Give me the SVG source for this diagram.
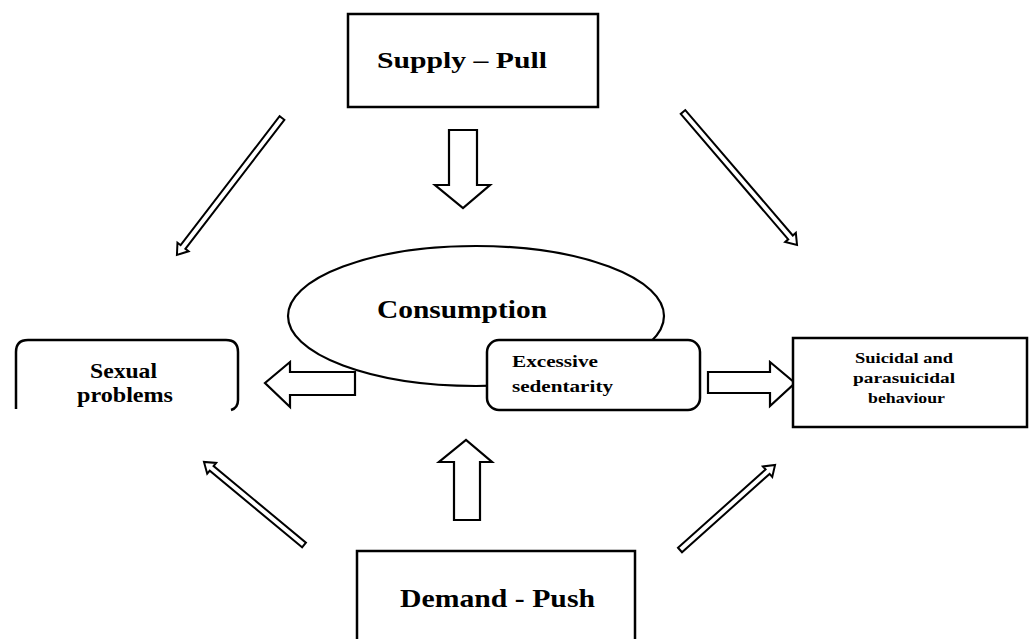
<svg xmlns="http://www.w3.org/2000/svg" width="1031" height="639" viewBox="0 0 1031 639">
<style>
.box{fill:#fff;stroke:#000;stroke-width:2.5}
.ell{fill:#fff;stroke:#000;stroke-width:2.2}
.blk{fill:#fff;stroke:#000;stroke-width:2.2;stroke-linejoin:miter}
.thin{fill:#fff;stroke:#000;stroke-width:2;stroke-linejoin:miter}
text{font-family:"Liberation Serif","Times New Roman",serif;font-weight:bold;fill:#000}
</style>
<defs>
<path id="thinArrow" d="M0,-3 L-10,-3 L-10,-7 L0,0 L-10,7 L-10,3 Z"/>
</defs>
<rect width="1031" height="639" fill="#fff"/>

<g id="connectors">
  <!-- block arrows -->
  <polygon class="blk" points="449,130 477,130 477,185 490,185 463,208 435,185 449,185"/>
  <polygon class="blk" points="454,520 480,520 480,462 492,462 466,440 439,462 454,462"/>
  <polygon class="blk" points="355,372 290,372 290,362 265,383 290,407 290,395 355,395"/>
  <polygon class="blk" points="708,372 770,372 770,362 795,383 770,406 770,393 708,393"/>
  <!-- thin diagonal arrows -->
  <g transform="translate(282,118) rotate(127.5)">
    <polygon class="thin" points="0,-3 162.6,-3 162.6,-7 172.6,0 162.6,7 162.6,3 0,3"/>
  </g>
  <g transform="translate(683,112) rotate(49.4)">
    <polygon class="thin" points="0,-3 165.2,-3 165.2,-7 175.2,0 165.2,7 165.2,3 0,3"/>
  </g>
  <g transform="translate(304,545) rotate(-140.3)">
    <polygon class="thin" points="0,-3 120,-3 120,-7 130,0 120,7 120,3 0,3"/>
  </g>
  <g transform="translate(680,550) rotate(-41.8)">
    <polygon class="thin" points="0,-3 117.5,-3 117.5,-7 127.5,0 117.5,7 117.5,3 0,3"/>
  </g>
</g>

<g id="supply">
  <rect class="box" x="348" y="14" width="250" height="93"/>
  <text x="377" y="68" font-size="24" textLength="170" lengthAdjust="spacingAndGlyphs">Supply – Pull</text>
</g>

<g id="consumption">
  <ellipse class="ell" cx="476" cy="316" rx="188" ry="70"/>
  <text x="377" y="318" font-size="25" textLength="170" lengthAdjust="spacingAndGlyphs">Consumption</text>
</g>

<g id="excessive">
  <rect class="box" x="487" y="340" width="213" height="70" rx="12" ry="12"/>
  <text x="512" y="367" font-size="16" textLength="86" lengthAdjust="spacingAndGlyphs">Excessive</text>
  <text x="512" y="392" font-size="16" textLength="101" lengthAdjust="spacingAndGlyphs">sedentarity</text>
</g>

<g id="sexual">
  <path class="box" fill="none" style="fill:none" d="M16,409 L16,352 Q16,340 28,340 L226,340 Q238,340 238,352 L238,400 Q238,408 231,410"/>
  <text x="90" y="378" font-size="21" textLength="67" lengthAdjust="spacingAndGlyphs">Sexual</text>
  <text x="77" y="402" font-size="21" textLength="96" lengthAdjust="spacingAndGlyphs">problems</text>
</g>

<g id="suicidal">
  <rect class="box" x="793" y="338" width="234" height="89"/>
  <text x="855" y="363" font-size="15" textLength="98" lengthAdjust="spacingAndGlyphs">Suicidal and</text>
  <text x="853" y="383" font-size="15" textLength="102" lengthAdjust="spacingAndGlyphs">parasuicidal</text>
  <text x="868" y="403" font-size="15" textLength="77" lengthAdjust="spacingAndGlyphs">behaviour</text>
</g>

<g id="demand">
  <rect class="box" x="357" y="551" width="278" height="100"/>
  <text x="400" y="607" font-size="25" textLength="195" lengthAdjust="spacingAndGlyphs">Demand - Push</text>
</g>
</svg>
